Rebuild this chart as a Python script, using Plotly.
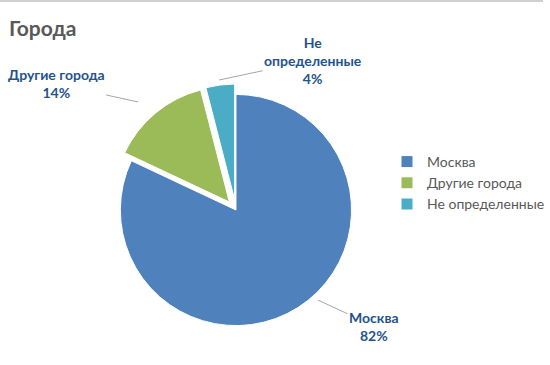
import plotly.graph_objects as go

labels = ["Москва", "Другие города", "Не определенные"]
values = [82, 14, 4]
colors = ["#4F81BD", "#9BBB59", "#4BACC6"]
pulls = [0, 0.09, 0.09]

W, H = 550, 365

def px(x):
    return x / W

def py(y):
    return 1 - y / H

FONT = "Lato, Open Sans, Noto Sans, sans-serif"

fig = go.Figure()
fig.add_trace(go.Pie(
    labels=labels,
    values=values,
    sort=False,
    direction="clockwise",
    rotation=0,
    pull=pulls,
    marker=dict(colors=colors, line=dict(color="white", width=1)),
    textinfo="none",
    hoverinfo="label+percent",
    domain=dict(x=[px(96), px(382)], y=[py(336), py(84)]),
))

label_color = "#24538C"
ann_font = dict(family=FONT, size=14, color=label_color)
pct = [f"{v}%" for v in values]
fig.update_layout(
    width=W, height=H,
    margin=dict(l=0, r=0, t=0, b=0),
    paper_bgcolor="white",
    plot_bgcolor="white",
    showlegend=True,
    legend=dict(
        x=px(392), y=py(146), xanchor="left", yanchor="top",
        font=dict(family=FONT, size=14, color="#595959"),
        itemwidth=30,
    ),
    annotations=[
        dict(text="<b>Города</b>", x=px(7), y=py(27), xref="paper", yref="paper",
             xanchor="left", yanchor="middle", showarrow=False,
             font=dict(family=FONT, size=21, color="#595959")),
        dict(text=f"<b>{labels[0]}<br>{pct[0]}</b>", x=px(322), y=py(300), xref="paper", yref="paper",
             ax=56, ay=26, showarrow=True, arrowhead=0, arrowwidth=1, arrowcolor="#A6A6A6",
             font=ann_font, align="center"),
        dict(text=f"<b>{labels[1]}<br>{pct[1]}</b>", x=px(140), y=py(102), xref="paper", yref="paper",
             ax=-82, ay=-18, showarrow=True, arrowhead=0, arrowwidth=1, arrowcolor="#A6A6A6",
             font=ann_font, align="center"),
        dict(text=f"<b>Не<br>определенные<br>{pct[2]}</b>", x=px(222), y=py(80), xref="paper", yref="paper",
             ax=94, ay=-20, showarrow=True, arrowhead=0, arrowwidth=1, arrowcolor="#A6A6A6",
             font=ann_font, align="center"),
    ],
    shapes=[
        dict(type="line", xref="paper", yref="paper", x0=0, x1=1, y0=py(1), y1=py(1),
             line=dict(color="#D0D0D0", width=2)),
    ],
)

fig.write_html("out.html", config={"displayModeBar": False},
               post_script="document.body.style.margin='0';")
